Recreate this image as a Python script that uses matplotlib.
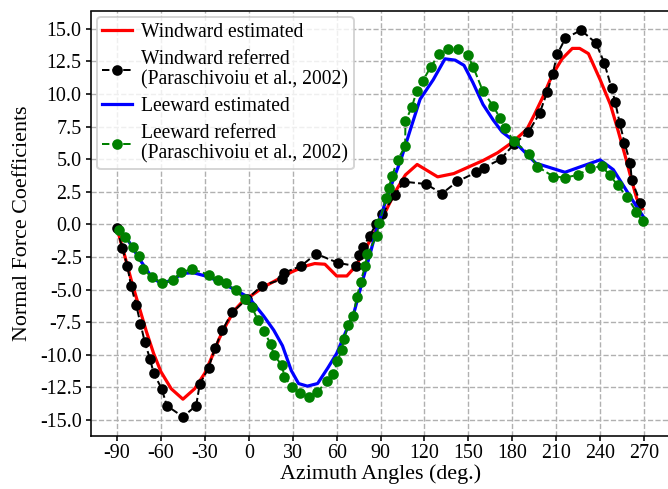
import matplotlib
matplotlib.use("Agg")
import matplotlib.pyplot as plt

plt.rcParams['font.family'] = ['Liberation Serif', 'DejaVu Serif']

# Windward estimated (red line)
ww_est_x = [-90, -85, -80, -75, -70, -65, -60, -53, -45, -37, -30, -25, -20, -15, -10, -5, 0,
            10, 20, 30, 40, 45, 52, 60, 67, 73, 80, 87, 93, 100, 107, 115, 129, 140, 150, 160,
            170, 180, 190, 195, 201, 207, 214, 221, 226, 232, 240, 247, 252, 257, 261, 265, 269]
ww_est_y = [-0.3, -2.3, -4.4, -6.3, -8.2, -9.9, -11.3, -12.6, -13.4, -12.6, -11.4, -10.1, -8.7, -7.6, -6.6, -6.0, -5.6,
            -4.8, -4.2, -3.6, -3.15, -3.0, -3.05, -3.95, -3.95, -3.2, -1.8, -0.4, 0.9, 2.5, 3.8, 4.6, 3.65, 3.9, 4.4, 4.9,
            5.5, 6.3, 7.3, 8.4, 9.8, 11.4, 12.7, 13.5, 13.5, 13.1, 11.1, 9.2, 7.3, 5.3, 3.6, 2.0, 1.2]

# Windward referred (black dots)
ww_ref_x = [-90, -86.5, -83, -80.5, -77, -74, -71, -67.5, -65, -59.5, -56, -45, -36, -33.5, -27.5, -23, -18, -11.5,
            -1, 9, 23, 24, 35.5, 46, 61, 73.5, 75.5, 78, 82.5, 87, 91, 100, 106, 121, 132, 142.5, 155.5, 160.5,
            172, 181.5, 191, 198.7, 203.8, 207.5, 210.7, 216.3, 227, 237.2, 242.8, 247.8, 250.2, 253.4, 256.6,
            260.6, 261.6, 267.4]
ww_ref_y = [-0.25, -1.8, -3.15, -4.7, -6.15, -7.6, -9.05, -10.3, -11.4, -12.6, -13.9, -14.75, -13.9, -12.25, -11.0, -9.45, -8.1, -6.75,
            -5.7, -4.7, -4.2, -3.7, -3.2, -2.25, -2.95, -3.2, -2.35, -1.75, -0.9, 0.05, 0.8, 2.25, 3.28, 3.1, 2.37, 3.3, 4.0, 4.35,
            5.0, 6.2, 7.07, 8.54, 10.15, 11.5, 13.05, 14.28, 14.9, 13.9, 12.4, 10.46, 9.42, 7.77, 6.28,
            4.69, 3.41, 1.68]

# Leeward estimated (blue line)
lw_est_x = [-90, -82, -75, -66, -60, -53, -45, -38, -28, -18, -8, 0, 5, 10, 17, 23, 29, 34, 40, 47, 54, 60,
            66, 72, 77, 83, 87, 93, 98.6, 104, 111, 117, 126, 134, 141, 147, 153, 160, 167, 173, 181,
            196, 216, 226, 240, 249, 258, 265, 271]
lw_est_y = [-0.3, -1.3, -2.6, -4.1, -4.5, -4.3, -3.75, -3.7, -4.0, -4.5, -5.1, -5.6, -6.3, -7.0, -8.1, -9.3, -11.2, -12.2, -12.4, -12.2, -11.0, -9.9,
            -8.3, -6.7, -4.6, -2.2, -0.5, 1.6, 3.4, 5.0, 7.5, 9.6, 11.1, 12.7, 12.6, 12.2, 10.9, 9.2, 8.0, 7.1, 6.4,
            4.7, 4.0, 4.4, 4.95, 4.2, 2.6, 1.35, 0.35]

# Leeward referred (green dots)
lw_ref_x = [-89, -84.3, -79.3, -75.3, -72.5, -66.2, -59.4, -51.7, -46.5, -38.5, -27.2, -20.8, -15.9, -9, -2.9, 2.0, 6.0,
            10.2, 15.2, 17, 22.7, 24.3, 29.5, 34.7, 41.3, 46.9, 53.3, 57.8, 60.5, 63.5, 65.1, 68, 71.4, 73.7, 76.4,
            79.4, 81, 87.3, 89.1, 93.7, 95.5, 97.8, 101.7, 106.8, 107, 111.3, 114.7, 118.8, 124.4, 130.2, 136.1,
            143.2, 149.4, 153.2, 160, 166.8, 171.4, 174.8, 180.9, 191.2, 197.2, 208, 216, 224.7, 233.4, 241,
            246.5, 252, 258.5, 264.8, 269]
lw_ref_y = [-0.4, -1.0, -1.7, -2.4, -3.45, -4.0, -4.5, -4.27, -3.66, -3.43, -3.86, -4.27, -4.48, -5.04, -5.73, -6.3, -7.3,
            -8.2, -9.2, -10.0, -10.8, -11.7, -12.45, -12.9, -13.2, -12.85, -12.0, -11.5, -10.5, -9.6, -8.75, -7.7, -7.0, -5.6, -4.4,
            -3.2, -2.3, -0.9, 0.13, 2.0, 2.8, 3.7, 4.95, 6.0, 7.9, 9.0, 10.2, 11.0, 12.1, 13.1, 13.42,
            13.45, 13.0, 12.1, 10.2, 9.1, 8.2, 7.4, 6.42, 5.43, 4.44, 3.67, 3.6, 3.79, 4.31, 4.47,
            3.8, 3.0, 2.1, 0.97, 0.26]

x_ticks = [-90, -60, -30, 0, 30, 60, 90, 120, 150, 180, 210, 240, 270]
y_ticks = [-15.0, -12.5, -10.0, -7.5, -5.0, -2.5, 0.0, 2.5, 5.0, 7.5, 10.0, 12.5, 15.0]

fig = plt.figure(figsize=(668/144, 489/144), dpi=144)
ax = fig.add_axes([90.7/668, 1-435.7/489, 579.7/668, (435.7-11.5)/489])

ax.plot(ww_est_x, ww_est_y, color='red', lw=1.6, label='Windward estimated', zorder=3)
ax.plot(ww_ref_x, ww_ref_y, color='black', ls='--', lw=1.0, marker='o', ms=4.3,
        label='Windward referred\n(Paraschivoiu et al., 2002)', zorder=4)
ax.plot(lw_est_x, lw_est_y, color='blue', lw=1.6, label='Leeward estimated', zorder=5)
ax.plot(lw_ref_x, lw_ref_y, color='green', ls='--', lw=1.0, marker='o', ms=4.3,
        label='Leeward referred\n(Paraschivoiu et al., 2002)', zorder=6)

ax.set_xlim(-108, 288)
ax.set_ylim(-16.2, 16.33)
ax.set_xticks(x_ticks)
ax.set_xticklabels([str(v) for v in x_ticks])
ax.set_yticks(y_ticks)
ax.set_yticklabels([f"{v:.1f}" for v in y_ticks])
ax.tick_params(labelsize=10, length=2.5, width=0.8)
ax.tick_params(axis='x', pad=1.5)
ax.tick_params(axis='y', pad=2.0)
ax.grid(True, ls='--', color='#b0b0b0', lw=0.7)
ax.set_axisbelow(True)
ax.set_xlabel('Azimuth Angles (deg.)', fontsize=11, labelpad=1)
ax.set_ylabel('Normal Force Coefficients', fontsize=11, labelpad=4)

leg = ax.legend(loc='upper left', fontsize=9.8, handlelength=1.5, handletextpad=0.45,
                borderaxespad=0.3, labelspacing=0.4, borderpad=0.3)
for t in leg.get_texts():
    t.set_linespacing(1.08)

fig.savefig('out.png', dpi=144)
